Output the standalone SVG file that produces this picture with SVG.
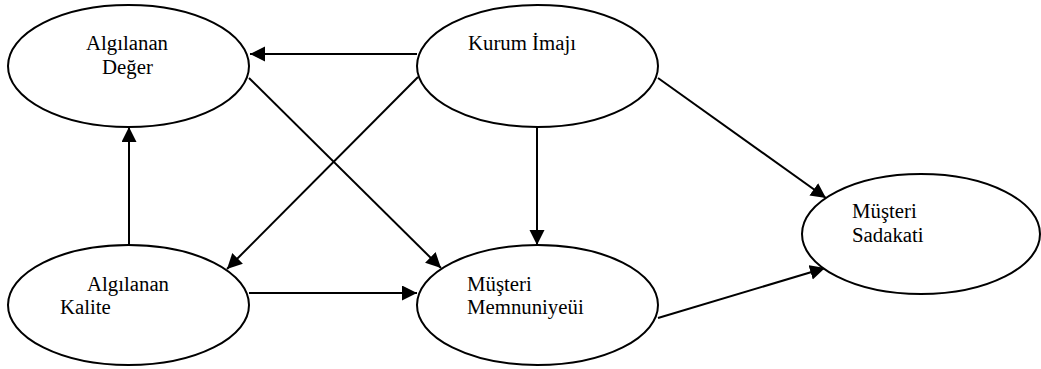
<svg xmlns="http://www.w3.org/2000/svg" width="1041" height="369" viewBox="0 0 1041 369">
<style>
.node ellipse{fill:#fff;stroke:#000;stroke-width:2}
.node text{font-family:"Liberation Serif","Times New Roman",serif;font-size:20.8px;fill:#000}
.edges line{stroke:#000;stroke-width:2;marker-end:url(#arr)}
</style>
<defs>
<marker id="arr" markerUnits="userSpaceOnUse" markerWidth="17" markerHeight="16" refX="15" refY="7.5" orient="auto">
<path d="M0,0 L15,7.5 L0,15 z" fill="#000"/>
</marker>
</defs>
<rect width="1041" height="369" fill="#fff"/>
<g class="edges" id="connectors">
<line x1="417" y1="54" x2="250" y2="54"/>
<line x1="249" y1="78" x2="441" y2="268"/>
<line x1="418" y1="77" x2="227" y2="269"/>
<line x1="129" y1="245" x2="129" y2="127"/>
<line x1="537" y1="126" x2="537" y2="245"/>
<line x1="249" y1="293" x2="417" y2="293"/>
<line x1="658" y1="78" x2="826" y2="198"/>
<line x1="658" y1="318" x2="825" y2="268"/>
</g>
<g class="node" id="deger">
<ellipse cx="128.5" cy="66" rx="120.5" ry="61"/>
<text x="86" y="50">Algılanan</text>
<text x="102" y="74">Değer</text>
</g>
<g class="node" id="imaj">
<ellipse cx="537.5" cy="66" rx="120.5" ry="61"/>
<text x="468" y="50">Kurum İmajı</text>
</g>
<g class="node" id="kalite">
<ellipse cx="128.5" cy="305" rx="120.5" ry="60"/>
<text x="87" y="291">Algılanan</text>
<text x="60" y="314">Kalite</text>
</g>
<g class="node" id="memnuniyet">
<ellipse cx="537.5" cy="305" rx="120.5" ry="60"/>
<text x="467" y="291">Müşteri</text>
<text x="467" y="314">Memnuniyeüi</text>
</g>
<g class="node" id="sadakat">
<ellipse cx="921" cy="234" rx="119" ry="60"/>
<text x="852" y="218">Müşteri</text>
<text x="852" y="242">Sadakati</text>
</g>
</svg>
